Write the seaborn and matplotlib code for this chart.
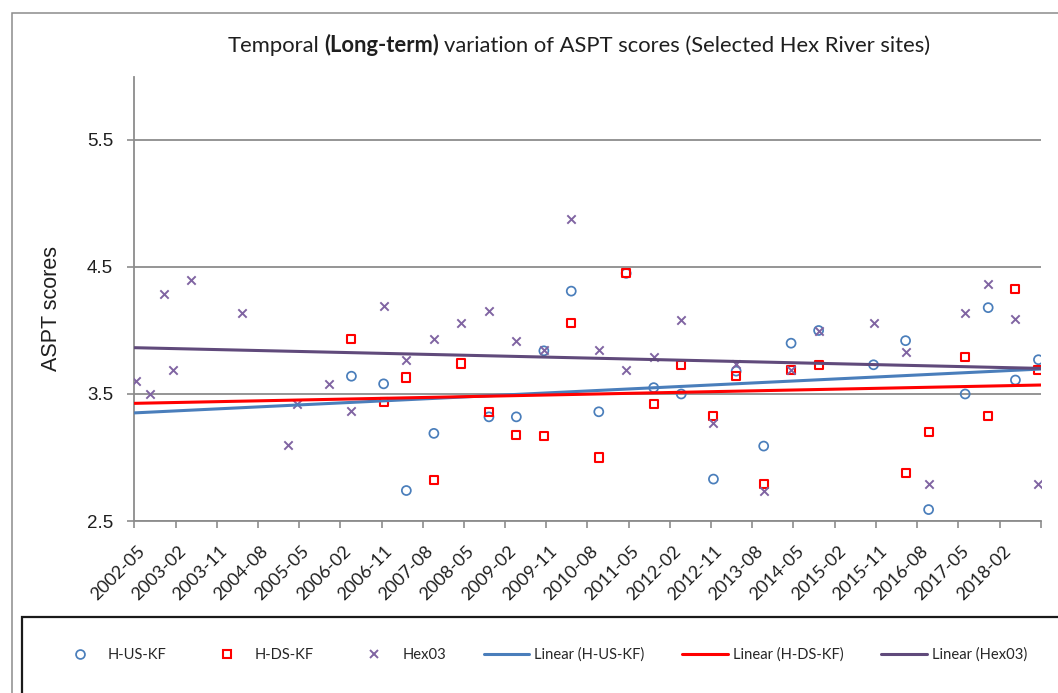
import numpy as np
import pandas as pd
import matplotlib
matplotlib.use("Agg")
import matplotlib.pyplot as plt
import matplotlib.dates as mdates
import matplotlib.transforms as mtransforms
from matplotlib.lines import Line2D
from matplotlib.patches import Rectangle
import seaborn as sns

# ---- ASPT scores per sampling month -------------------------------------
us_months = ["2006-04", "2006-11", "2007-04", "2007-10", "2008-10", "2009-04",
             "2009-10", "2010-04", "2010-10", "2011-04", "2011-10", "2012-04",
             "2012-11", "2013-04", "2013-10", "2014-04", "2014-10", "2015-10",
             "2016-05", "2016-10", "2017-06", "2017-11", "2018-05", "2018-10"]
us_aspt = [3.64, 3.58, 2.74, 3.19, 3.32, 3.32, 3.84, 4.31, 3.36, 4.45, 3.55, 3.50,
           2.83, 3.68, 3.09, 3.90, 4.00, 3.73, 3.92, 2.59, 3.50, 4.18, 3.61, 3.77]

ds_months = ["2006-04", "2006-11", "2007-04", "2007-10", "2008-04", "2008-10",
             "2009-04", "2009-10", "2010-04", "2010-10", "2011-04", "2011-10",
             "2012-04", "2012-11", "2013-04", "2013-10", "2014-04", "2014-10",
             "2016-05", "2016-10", "2017-06", "2017-11", "2018-05", "2018-10"]
ds_aspt = [3.93, 3.44, 3.63, 2.82, 3.74, 3.36, 3.18, 3.17, 4.06, 3.00, 4.45, 3.42,
           3.73, 3.33, 3.64, 2.79, 3.69, 3.73, 2.88, 3.20, 3.79, 3.33, 4.33, 3.69]

hex_months = ["2002-05", "2002-08", "2002-11", "2003-01", "2003-05", "2004-04",
              "2005-02", "2005-04", "2005-11", "2006-04", "2006-11", "2007-04",
              "2007-10", "2008-04", "2008-10", "2009-04", "2009-10", "2010-04",
              "2010-10", "2011-04", "2011-10", "2012-04", "2012-11", "2013-04",
              "2013-10", "2014-04", "2014-10", "2015-10", "2016-05", "2016-10",
              "2017-06", "2017-11", "2018-05", "2018-10"]
hex_aspt = [3.60, 3.50, 4.29, 3.69, 4.40, 4.14, 3.10, 3.42, 3.58, 3.37, 4.19, 3.77,
            3.93, 4.06, 4.15, 3.92, 3.85, 4.88, 3.85, 3.69, 3.79, 4.08, 3.27, 3.74,
            2.74, 3.69, 4.00, 4.06, 3.83, 2.79, 4.14, 4.37, 4.09, 2.79]

series_names = ["H-US-KF", "H-DS-KF", "Hex03"]
axis_start, axis_end = "2002-05", "2018-11"
y_ticks = [2.5, 3.5, 4.5, 5.5]
y_limits = (2.5, 6.0)

title_parts = ["Temporal", "(Long-term)", "variation of ASPT scores (Selected Hex River sites)"]
y_label = "ASPT scores"

# ---- styling -----------------------------------------------------------
C_US, C_DS, C_HEX = "#4A7EBB", "#FF0000", "#8064A2"
C_HEX_TREND = "#604A7B"
GRAY = "#8C8C8C"
TXT = "#1F1F1F"
CAL = ["Lato", "DejaVu Sans"]
ARIAL = ["Liberation Sans", "DejaVu Sans"]

sns.set_style("white")
plt.rcParams["font.family"] = CAL

W, H = 1058, 693
fig = plt.figure(figsize=(W / 100, H / 100), dpi=100)
ax = fig.add_axes([134 / W, 1 - 521 / H, (1041 - 134) / W, (521 - 76.5) / H])


def month_nums(months):
    d = pd.to_datetime(months, format="%Y-%m") + pd.Timedelta(days=14)
    return mdates.date2num(d)


x_lo = mdates.date2num(pd.Timestamp(axis_start + "-01"))
x_hi = mdates.date2num(pd.Timestamp(axis_end + "-01"))
ax.set_xlim(x_lo, x_hi)
ax.set_ylim(*y_limits)

sets = [
    (month_nums(us_months), us_aspt, C_US),
    (month_nums(ds_months), ds_aspt, C_DS),
    (month_nums(hex_months), hex_aspt, C_HEX_TREND),
]

# markers
sns.scatterplot(x=sets[0][0], y=sets[0][1], ax=ax, marker="o", s=42,
                color=C_US, facecolor="none", edgecolor=C_US, linewidth=1.25, zorder=3)
sns.scatterplot(x=sets[1][0], y=sets[1][1], ax=ax, marker="s", s=34,
                color=C_DS, facecolor="none", edgecolor=C_DS, linewidth=1.5, zorder=3)
sns.scatterplot(x=sets[2][0], y=sets[2][1], ax=ax, marker="x", s=36,
                color=C_HEX, linewidth=1.4, zorder=3)

# linear trend lines across the full time axis
for xs, ys, tc in sets:
    ax.set_xlim(x_lo, x_hi)
    sns.regplot(x=xs, y=ys, ax=ax, scatter=False, ci=None, truncate=False,
                line_kws=dict(color=tc, lw=2.2, zorder=4, solid_capstyle="butt"))
ax.set_xlim(x_lo, x_hi)
ax.set_ylim(*y_limits)

# axes cosmetics
ax.set_xlabel("")
ax.set_ylabel("")
for side in ("top", "right"):
    ax.spines[side].set_visible(False)
for side in ("left", "bottom"):
    ax.spines[side].set_color(GRAY)
    ax.spines[side].set_linewidth(1.3)
ax.yaxis.grid(True, color=GRAY, lw=1.3)
ax.xaxis.grid(False)
ax.set_axisbelow(True)

ax.set_yticks(y_ticks)
ax.set_yticklabels([f"{v:.1f}" for v in y_ticks], fontfamily=ARIAL, fontsize=13.5,
                   color=TXT)
ax.tick_params(axis="y", left=True, length=5, width=1.2, color=GRAY, pad=10)

tick_dates = pd.date_range(axis_start + "-01", axis_end + "-01", freq="9MS")
ax.set_xticks(mdates.date2num(tick_dates))
tick_labels = [d.strftime("%Y-%m") for d in tick_dates]
tick_labels[-1] = ""
ax.set_xticklabels(tick_labels, rotation=45, ha="right", rotation_mode="anchor",
                   fontsize=13, color=TXT)
ax.tick_params(axis="x", bottom=True, length=5, width=1.2, color=GRAY, pad=11)
shift = mtransforms.ScaledTranslation(2.5 / 100, 0, fig.dpi_scale_trans)
for lbl in ax.get_xticklabels():
    lbl.set_transform(lbl.get_transform() + shift)

# y-axis title
fig.text(51.5 / W, 1 - 308.5 / H, y_label, rotation=90, ha="center", va="center",
         fontfamily=ARIAL, fontsize=15.5, color=TXT)

# chart title with bold middle part
renderer = fig.canvas.get_renderer()
title_y = 1 - 52 / H
TITLE_FS = 15.8
weights = ["normal", "bold", "normal"]
tparts = [fig.text(0, title_y, s, fontsize=TITLE_FS, fontweight=w, va="baseline",
                   color=TXT) for s, w in zip(title_parts, weights)]
probe_a = fig.text(0, 0, "T T", fontsize=TITLE_FS)
probe_b = fig.text(0, 0, "TT", fontsize=TITLE_FS)
space_w = 0.8 * (probe_a.get_window_extent(renderer).width
                 - probe_b.get_window_extent(renderer).width)
probe_a.remove()
probe_b.remove()
widths = [t.get_window_extent(renderer).width for t in tparts]
total = sum(widths) + 2 * space_w
x_px = 579 - total / 2
for t, w in zip(tparts, widths):
    t.set_x(x_px / W)
    x_px += w + space_w

# outer chart border and legend box
fig.patches.append(Rectangle((11.5 / W, -0.1), 1.2, 1.1 - 13.5 / H,
                             transform=fig.transFigure, fill=False,
                             edgecolor=GRAY, lw=1.1, zorder=0))
fig.patches.append(Rectangle((22 / W, -0.1), 1.2, 0.1 + 1 - 617 / H,
                             transform=fig.transFigure, fill=False,
                             edgecolor="#1A1A1A", lw=1.6, zorder=0))

handles = [
    Line2D([], [], ls="none", marker="o", ms=6.4, mfc="none", mec=C_US, mew=1.25),
    Line2D([], [], ls="none", marker="s", ms=5.8, mfc="none", mec=C_DS, mew=1.5),
    Line2D([], [], ls="none", marker="x", ms=6, mec=C_HEX, mew=1.4),
    Line2D([], [], color=C_US, lw=2.2),
    Line2D([], [], color=C_DS, lw=2.2),
    Line2D([], [], color=C_HEX_TREND, lw=2.2),
]
labels = series_names + [f"Linear ({n})" for n in series_names]
fig.legend(handles, labels, loc="center left", bbox_to_anchor=(57 / W, 1 - 655 / H),
           ncol=6, frameon=False, borderpad=0, borderaxespad=0, fontsize=10.6,
           handlelength=3.1, handletextpad=0.35, columnspacing=2.55)

fig.savefig("out.png", dpi=100)
